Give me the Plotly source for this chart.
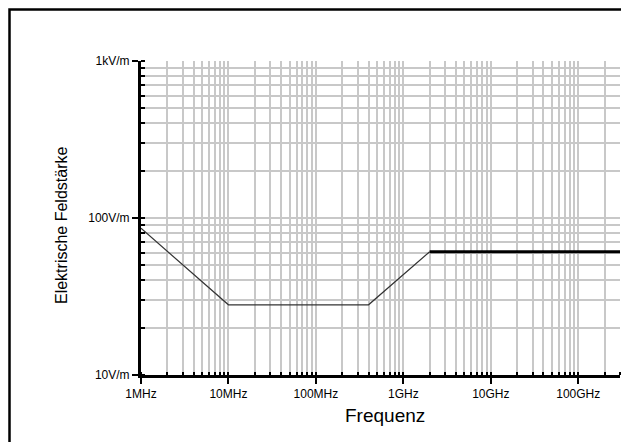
import math
import plotly.graph_objects as go

# Data (frequency in Hz, field strength in V/m)
freq_thin = [1e6, 1e7, 4e8, 2e9]
field_thin = [86, 28, 28, 61]
freq_thick = [2e9, 3e11]
field_thick = [61, 61]

x_tickvals = [1e6, 1e7, 1e8, 1e9, 1e10, 1e11]
x_ticktext = ["1MHz", "10MHz", "100MHz", "1GHz", "10GHz", "100GHz"]
y_tickvals = [10, 100, 1000]
y_ticktext = ["10V/m", "100V/m", "1kV/m"]

fig = go.Figure()
fig.add_trace(go.Scatter(x=freq_thin, y=field_thin, mode="lines",
                         line=dict(color="#333333", width=1.2), showlegend=False))
fig.add_trace(go.Scatter(x=freq_thick, y=field_thick, mode="lines",
                         line=dict(color="#000000", width=3), showlegend=False))

grid = "#c8c8c8"
font = "Liberation Sans, Arial, sans-serif"

fig.update_xaxes(type="log", range=[6, math.log10(3e11)], automargin=False,
                 tickvals=x_tickvals, ticktext=x_ticktext,
                 showline=True, linecolor="black", linewidth=3,
                 ticks="outside", ticklen=6, tickwidth=2, tickcolor="black",
                 showgrid=True, gridcolor=grid, gridwidth=2,
                 minor=dict(dtick="D1", ticks="inside", ticklen=3, tickwidth=2,
                            tickcolor="black", showgrid=True, gridcolor=grid, gridwidth=2),
                 tickfont=dict(family=font, size=12, color="black"),
                 zeroline=False)
fig.update_yaxes(type="log", range=[1, 3], automargin=False,
                 tickvals=y_tickvals, ticktext=y_ticktext,
                 showline=True, linecolor="black", linewidth=3,
                 ticks="outside", ticklen=6, tickwidth=2, tickcolor="black",
                 showgrid=True, gridcolor=grid, gridwidth=2,
                 minor=dict(dtick="D1", ticks="inside", ticklen=4, tickwidth=2,
                            tickcolor="black", showgrid=True, gridcolor=grid, gridwidth=2),
                 tickfont=dict(family=font, size=12, color="black"),
                 zeroline=False)

# the page body has an 8px margin, so the figure is sized/offset to compensate
pw, ph = 479, 314
fig.update_layout(width=621, height=434,
                  margin=dict(l=133, r=9, t=53, b=67, autoexpand=False),
                  plot_bgcolor="white", paper_bgcolor="white",
                  annotations=[
                      dict(text="Frequenz", xref="paper", yref="paper",
                           x=(385 - 141) / pw, y=-(415 - 375) / ph,
                           xanchor="center", yanchor="middle", showarrow=False,
                           font=dict(family=font, size=19, color="black")),
                      dict(text="Elektrische Feldstärke", xref="paper", yref="paper",
                           x=-(141 - 61) / pw, y=(375 - 226) / ph, textangle=-90,
                           xanchor="center", yanchor="middle", showarrow=False,
                           font=dict(family=font, size=16, color="black")),
                  ],
                  shapes=[dict(type="rect", xref="paper", yref="paper",
                               x0=-(141 - 9.5) / pw, x1=1.1, y0=-0.5,
                               y1=1 + (61 - 9.5) / ph,
                               line=dict(color="black", width=2.5), layer="above")])

fig.write_html("out.html")
